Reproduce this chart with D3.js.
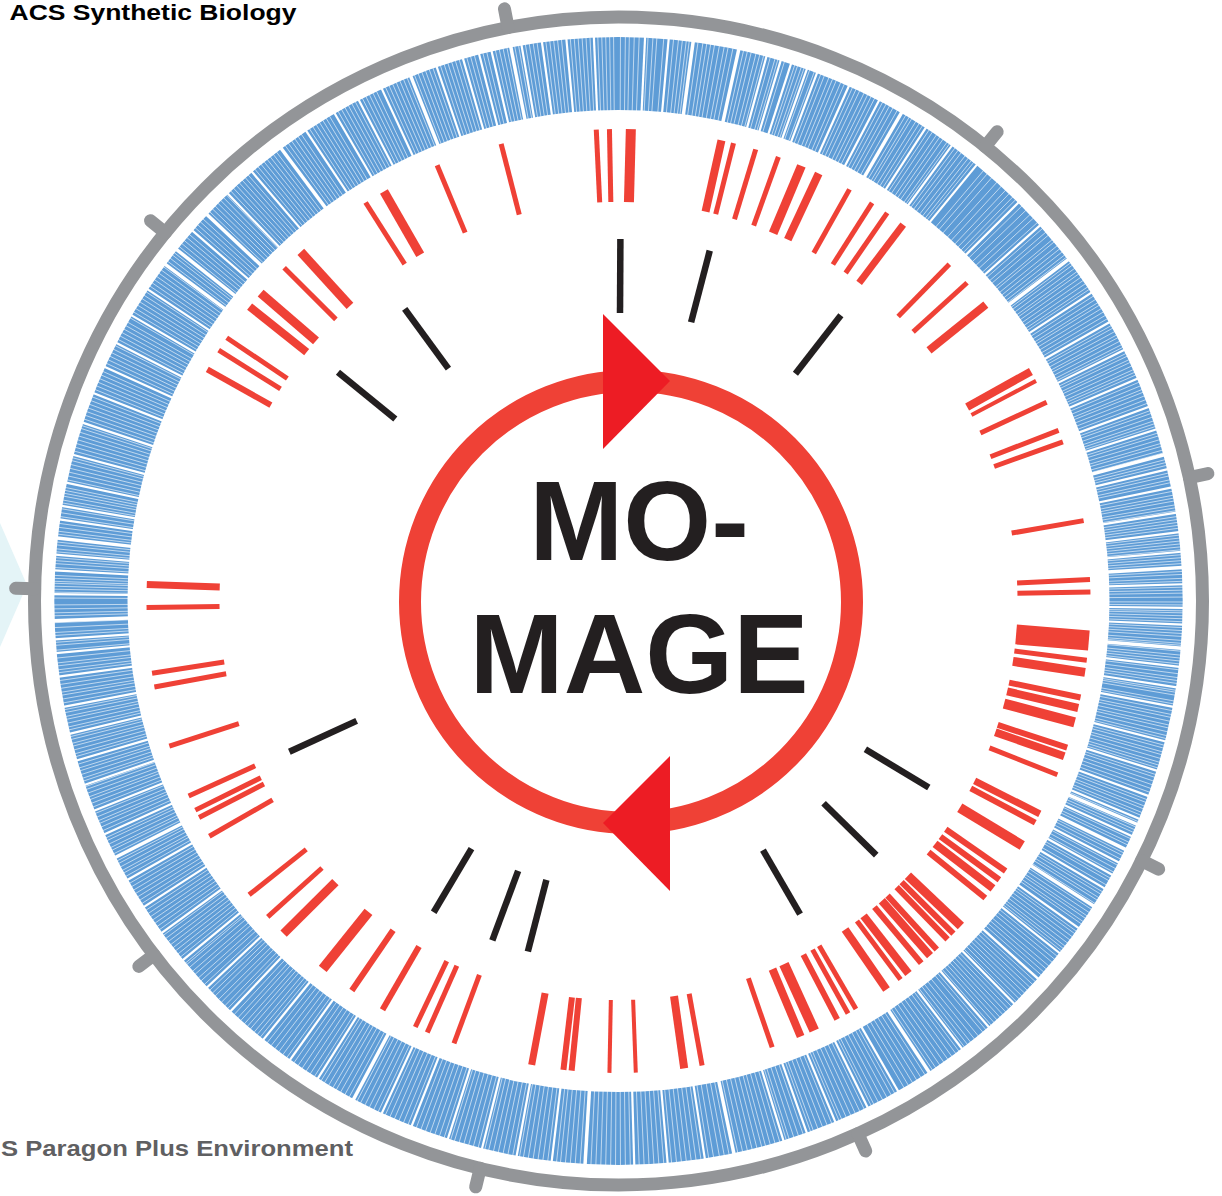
<!DOCTYPE html>
<html>
<head>
<meta charset="utf-8">
<script src="https://cdn.jsdelivr.net/npm/d3@7"></script>
<style>
  body { margin: 0; background: #fff; }
  svg { display: block; font-family: "Liberation Sans", Arial, sans-serif; }
</style>
</head>
<body>
<svg width="1222" height="1196"></svg>
<script>
// genome scale ticks on the outer grey ring (degrees, clockwise from top)
var scaleTicks = [38.9, 77.8, 116.4, 155.8, 193.7, 232.7, 271.2, 309.1, 349.1];

// targeted sites: [angle, width px]
var redTicks = [
[345.6,5],[357.3,5],[358.9,5],[1.5,10],
[12.6,8],[14.1,5],[16.9,5],[19.8,5],[22.8,9],[25.1,8],[29.3,5],[32.5,5],[34.7,5],[37.1,7],
[44.5,5],[47.6,5],[51.1,8],[60.9,8],[62.2,4],[65.1,5],[68.8,5],[70.3,5],[80.2,5],[87.4,5],[88.9,5],
[94.8,20],[97.2,5],[98.7,9],[101.8,6],[103.1,8],[104.9,10],[108.1,6],[109.2,8],[111.6,5],
[116.8,7],[118.0,6],[121.2,10],[124.9,6],[126.2,6],[127.5,8],[129.0,6],
[133.5,9],[134.8,6],[135.8,6],[137.6,6],[138.7,8],[140.1,6],[142.1,8],[143.3,5],[145.4,8],
[149.8,5],[150.9,5],[152.4,6],[155.5,10],[157.3,8],[161.0,5],[169.8,5],[172.0,8],[177.9,4],
[181.1,4],[185.7,6],[186.7,6],[190.6,7],[200.4,5],[203.9,5],[205.5,5],[210.0,6],[214.4,6],[218.8,10],
[225.2,9],[228.0,5],[231.5,5],[240.1,5],[242.7,5],[243.7,5],[245.6,5],[252.1,5],[259.5,5],[261.2,5],
[269.2,5],[272.0,7],
[299.4,6],[302.1,5],[303.9,5],[308.6,8],[310.7,9],[314.9,5],[317.7,9],[327.6,5],[330.2,9],[337.4,5]
];

// black marks on the inner ring
var blackTicks = [0.3, 14.6, 37.9, 121.0, 134.6, 149.9, 194.5, 200.4, 210.7, 245.4, 309.2, 323.8];

// white spaces between genes in the blue ring
var wideGaps = [7.6, 12.3, 30.1, 52.8, 75.0, 86.6, 94.8, 113.3, 116.1, 122.7, 146.6, 168.2, 183.4,
  208.0, 243.0, 268.0, 276.4, 306.6, 308.5, 313.2, 323.3, 338.4, 349.0];
var midGaps = [2.7, 5.1, 15.2, 16.7, 17.8, 19.5, 20.6, 24.1, 27.5, 33.0, 36.2, 39.4, 45.1, 48.3, 56.9,
  60.4, 63.6, 66.8, 69.9, 72.3, 76.5, 78.4, 81.0, 83.0, 85.0, 88.3, 90.7, 92.4, 96.7, 98.8, 100.8,
  104.4, 107.5, 110.2, 112.7, 114.6, 117.6, 119.0, 120.6, 125.4, 128.6, 132.0, 135.5, 139.0, 142.5,
  150.3, 153.8, 157.4, 160.5, 163.0, 171.2, 175.0, 178.4, 186.8, 190.4, 194.0, 197.6, 201.5, 204.8,
  212.2, 215.6, 219.0, 223.4, 226.8, 230.5, 234.0, 237.2, 240.4, 245.6, 248.2, 251.0, 253.6, 256.4,
  259.2, 262.3, 264.7, 266.1, 270.7, 273.1, 274.7, 278.3, 279.7, 282.1, 285.0, 288.4, 291.6, 294.5,
  297.2, 300.4, 303.5, 311.0, 316.2, 319.5, 326.4, 329.8, 332.6, 335.2, 341.2, 344.0, 345.7, 347.0,
  350.1, 352.2, 354.7, 357.5];
var fineGaps = [
"0.2 0.7 1.1 1.6 2.1 3.0 3.5 3.9 4.6 5.6 6.1 6.5 6.9 7.2 8.1 8.6 9.0 9.4 9.8",
"10.3 10.8 11.2 11.7 12.8 13.2 13.6 14.1 14.5 14.9 15.6 16.1 16.4 17.1 18.2 18.5 18.9 19.2 19.8",
"20.3 21.0 21.4 21.9 22.3 22.7 23.2 23.6 24.5 24.9 25.3 25.8 26.2 26.6 27.0 27.9 28.3 28.7 29.1 29.6",
"30.6 31.0 31.3 31.8 32.2 32.6 33.4 33.8 34.3 34.7 35.1 35.6 35.9 36.6 37.0 37.4 37.9 38.3 38.7 39.0",
"40.3 40.8 41.4 42.1 42.7 43.3 43.8 44.3 44.7 45.6 46.2 46.8 47.3 47.9 48.7 49.2 49.6",
"50.2 50.5 51.0 51.4 51.8 52.2 52.5 53.2 53.5 53.9 54.3 54.6 55.0 55.4 55.8 56.2 56.5 57.3 57.7 58.1 58.4 58.8 59.2 59.6",
"60.0 60.8 61.1 61.5 61.9 62.2 62.6 63.0 63.3 64.0 64.3 64.7 65.0 65.4 65.8 66.1 66.4 67.2 67.6 68.0 68.3 68.7 69.1 69.5",
"70.3 70.6 71.0 71.4 71.7 72.0 72.7 73.0 73.4 73.8 74.1 74.5 74.8 75.5 75.8 76.1 76.9 77.2 77.6 77.9 78.8 79.2 79.5 79.8",
"80.2 80.5 80.8 81.4 81.7 82.0 82.3 82.6 83.3 83.6 83.9 84.2 84.5 84.8 85.3 85.6 85.9 86.2 87.0 87.3 87.7 88.0 88.6 88.9 89.2 89.6",
"90.1 90.4 91.0 91.2 91.5 91.8 92.1 92.7 93.0 93.3 93.6 94.0 94.3 94.5 95.1 95.5 95.8 96.1 96.4 97.0 97.4 97.8 98.1 98.4 99.1 99.3 99.6",
"100.2 100.5 101.2 101.6 101.9 102.3 102.7 103.0 103.4 103.8 104.1 104.8 105.1 105.5 105.8 106.2 106.6 106.9 107.2 107.9 108.2 108.6 109.0 109.4 109.8",
"110.6 110.9 111.3 111.6 112.0 112.3 113.0 113.6 113.9 114.2 114.9 115.3 115.6 116.5 116.8 117.2 117.9 118.3 118.7 119.4 119.7",
"120.2 121.0 121.3 121.7 122.0 122.4 123.1 123.5 123.9 124.2 124.6 124.9 125.8 126.1 126.5 126.9 127.3 127.7 128.0 128.3 129.0 129.4 129.8",
"130.3 130.7 131.1 131.5 131.9 132.4 132.8 133.2 133.6 134.0 134.4 134.8 135.2 135.9 136.3 136.7 137.1 137.5 137.9 138.3 138.7 139.4 139.8",
"140.4 140.9 141.4 141.8 142.2 142.9 143.3 143.8 144.3 144.8 145.3 145.8 146.2 147.1 147.6 148.1 148.6 149.1 149.6",
"150.7 151.1 151.6 152.1 152.6 153.1 153.4 154.2 154.7 155.2 155.7 156.2 156.7 157.0 157.8 158.3 158.8 159.3 159.8",
"160.1 160.9 161.4 161.9 162.4 162.7 163.4 163.9 164.4 164.9 165.3 165.8 166.3 166.8 167.3 167.8 168.7 169.2 169.7",
"170.3 170.8 171.6 172.1 172.6 173.1 173.6 174.1 174.6 175.4 175.9 176.4 176.9 177.4 177.9 178.8 179.3 179.8",
"180.3 180.8 181.3 181.8 182.3 182.8 183.9 184.4 184.9 185.4 185.9 186.3 187.2 187.7 188.2 188.7 189.2 189.7",
"190.1 190.8 191.3 191.8 192.3 192.8 193.3 193.7 194.4 194.9 195.4 195.9 196.4 196.9 197.3 198.0 198.5 199.0 199.5",
"200.0 200.5 201.0 201.9 202.4 202.9 203.4 203.9 204.4 205.2 205.7 206.2 206.7 207.2 207.6 208.5 209.0 209.5",
"210.0 210.4 210.9 211.4 211.8 212.6 213.1 213.6 214.1 214.6 215.1 216.0 216.5 217.0 217.5 218.0 218.5 219.4 219.8",
"220.2 220.7 221.1 221.5 222.0 222.4 222.9 223.8 224.2 224.7 225.1 225.6 226.0 226.4 227.2 227.7 228.1 228.6 229.0 229.5 229.9",
"230.1 230.9 231.3 231.7 232.1 232.5 232.9 233.3 233.7 234.4 234.8 235.2 235.6 236.0 236.4 236.8 237.6 238.0 238.4 238.8 239.2 239.6",
"240.0 240.8 241.2 241.5 241.9 242.3 242.6 243.4 243.8 244.1 244.5 244.9 245.2 246.0 246.4 246.8 247.1 247.5 247.9 248.6 249.0 249.4 249.7",
"250.1 250.5 250.8 251.4 251.7 252.1 252.5 252.8 253.2 254.0 254.3 254.7 255.1 255.4 255.8 256.1 256.8 257.1 257.5 257.9 258.2 258.6 258.9 259.6",
"260.0 260.4 260.7 261.1 261.5 261.9 262.7 263.0 263.4 263.7 264.2 265.0 265.5 265.8 266.5 266.8 267.3 267.8 268.5 268.8 269.2 269.6",
"270.3 270.9 271.2 271.5 271.8 272.0 272.3 272.6 273.4 273.8 274.1 274.4 275.0 275.3 275.7 276.0 276.8 277.1 277.5 277.9 278.6 279.0 279.4",
"280.0 280.3 280.7 281.0 281.3 281.6 282.4 282.8 283.2 283.6 284.0 284.4 284.7 285.4 285.8 286.2 286.6 287.0 287.4 287.8 288.1 288.8 289.2 289.6",
"290.0 290.4 290.8 291.2 292.0 292.4 292.8 293.2 293.6 294.0 294.9 295.3 295.7 296.1 296.5 296.9 297.6 298.0 298.4 298.8 299.2 299.6",
"300.1 300.8 301.2 301.6 302.0 302.4 302.8 303.2 303.9 304.3 304.7 305.1 305.5 305.9 306.3 307.0 307.4 307.8 308.1 308.9 309.3 309.7",
"310.1 310.5 311.4 311.8 312.2 312.6 313.6 314.0 314.4 314.8 315.2 315.6 316.0 316.6 317.0 317.4 317.8 318.2 318.6 319.0 319.9",
"320.3 320.7 321.1 321.5 321.9 322.3 322.7 323.8 324.2 324.6 325.0 325.4 325.8 326.8 327.2 327.6 328.0 328.4 328.8 329.2",
"330.2 330.6 331.0 331.4 331.8 332.2 333.0 333.4 333.8 334.2 334.6 335.6 336.0 336.4 336.8 337.2 337.6 338.0 338.8 339.2 339.6",
"340.0 340.4 340.8 341.6 342.0 342.4 342.8 343.2 343.6 344.4 344.8 345.2 346.1 346.5 347.4 347.8 348.2 348.6 349.4 349.8",
"350.5 350.9 351.3 351.7 352.6 353.0 353.4 353.8 354.2 355.1 355.5 355.9 356.3 356.7 357.1 357.9 358.3 358.7 359.1 359.5"
];

var svg = d3.select("svg");
var cx = 618.5, cy = 601;

// left page decoration
svg.append("polygon")
  .attr("points", "0,523 27,585 0,647")
  .attr("fill", "#e4f4f7");

var g = svg.append("g").attr("transform", "translate(" + cx + "," + cy + ")");

var angle = d3.scaleLinear().domain([0, 360]).range([0, 2 * Math.PI]);
function px(r, d) { return r * Math.sin(angle(d)); }
function py(r, d) { return -r * Math.cos(angle(d)); }

function radial(sel, r1, r2, a) {
  sel.attr("x1", function(d) { return px(r1, a(d)); })
     .attr("y1", function(d) { return py(r1, a(d)); })
     .attr("x2", function(d) { return px(r2, a(d)); })
     .attr("y2", function(d) { return py(r2, a(d)); });
}
var self = function(d) { return d; };
var first = function(d) { return d[0]; };

// outer grey ring + ticks
g.append("circle").attr("r", 584).attr("fill", "none")
  .attr("stroke", "#939598").attr("stroke-width", 13);
g.selectAll(".scale").data(scaleTicks).enter().append("line")
  .attr("class", "scale")
  .call(radial, 584, 603, self)
  .attr("stroke", "#939598").attr("stroke-width", 13).attr("stroke-linecap", "round");

// blue gene ring
var arc = d3.arc().innerRadius(491).outerRadius(564).startAngle(0).endAngle(2 * Math.PI);
g.append("path").attr("d", arc()).attr("fill", "#5e9cd6");

var fine = [];
fineGaps.forEach(function(s) { s.split(" ").forEach(function(v) { fine.push(+v); }); });

function gaps(list, w, op) {
  g.append("g").selectAll("line").data(list).enter().append("line")
    .call(radial, 490, 565, self)
    .attr("stroke", "#fff").attr("stroke-width", w).attr("stroke-opacity", op);
}
gaps(fine, 1, 0.6);
gaps(midGaps, 2.2, 1);
gaps(wideGaps, 3.5, 1);

// red ring
g.selectAll(".red").data(redTicks).enter().append("line")
  .attr("class", "red")
  .call(radial, 399, 472, first)
  .attr("stroke", "#ef4136")
  .attr("stroke-width", function(d) { return d[1]; });

// black ring
g.selectAll(".blk").data(blackTicks).enter().append("line")
  .attr("class", "blk")
  .call(radial, 288, 362, self)
  .attr("stroke", "#231f20").attr("stroke-width", 6.5);

// central cycle
var ccx = 631, ccy = 602, cr = 221;
svg.append("circle").attr("cx", ccx).attr("cy", ccy).attr("r", cr)
  .attr("fill", "none").attr("stroke", "#ef4136").attr("stroke-width", 22);

var tri = [[-28, -67], [-28, 68], [39, 0]];
svg.append("polygon")
  .attr("points", tri.map(function(p) { return [ccx + p[0], ccy - cr + p[1]].join(","); }).join(" "))
  .attr("fill", "#ed1c24");
svg.append("polygon")
  .attr("points", tri.map(function(p) { return [ccx + 11 - p[0], ccy + cr + p[1]].join(","); }).join(" "))
  .attr("fill", "#ed1c24");

svg.append("text").attr("x", 639).attr("y", 560).attr("text-anchor", "middle")
  .attr("font-size", 113).attr("font-weight", "bold").attr("fill", "#231f20").text("MO-");
svg.append("text").attr("x", 639).attr("y", 693).attr("text-anchor", "middle")
  .attr("font-size", 113).attr("font-weight", "bold").attr("fill", "#231f20").text("MAGE");

// page header / footer
svg.append("text").attr("x", 9.5).attr("y", 20)
  .attr("font-size", 22.5).attr("font-weight", "bold").attr("fill", "#000")
  .attr("textLength", 287).attr("lengthAdjust", "spacingAndGlyphs")
  .text("ACS Synthetic Biology");
svg.append("text").attr("x", 1).attr("y", 1156)
  .attr("font-size", 22.5).attr("font-weight", "bold").attr("fill", "#5f6062")
  .attr("textLength", 352).attr("lengthAdjust", "spacingAndGlyphs")
  .text("S Paragon Plus Environment");
</script>
</body>
</html>
